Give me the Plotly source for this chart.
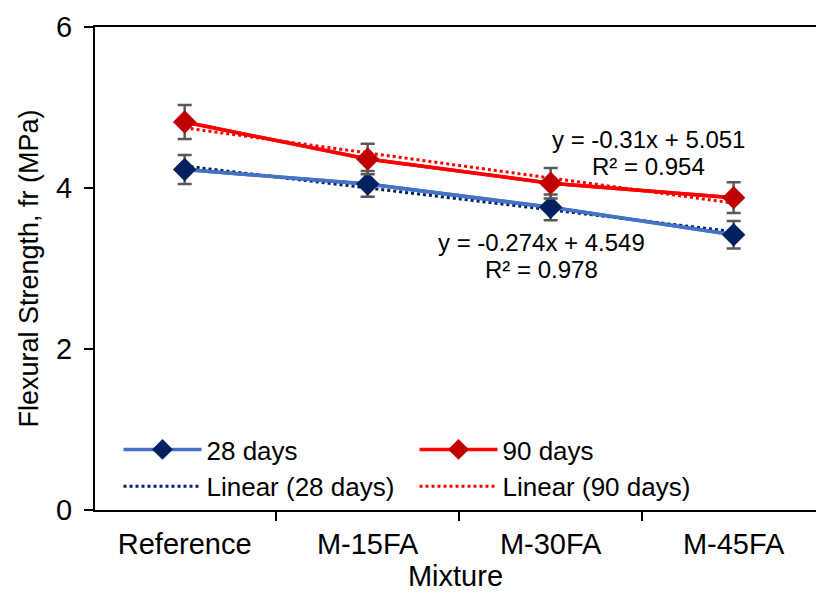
import numpy as np
import plotly.graph_objects as go

categories = ["Reference", "M-15FA", "M-30FA", "M-45FA"]
days28 = [4.23, 4.05, 3.76, 3.42]
days90 = [4.82, 4.36, 4.06, 3.88]
err28 = [0.18, 0.16, 0.16, 0.17]
err90 = [0.21, 0.19, 0.19, 0.19]
y_ticks = [0, 2, 4, 6]
eq28 = ["y = -0.274x + 4.549", "R² = 0.978"]
eq90 = ["y = -0.31x + 5.051", "R² = 0.954"]

FONT = "Liberation Sans, Arial, sans-serif"

xi = np.arange(1, len(categories) + 1)
k28, b28 = np.polyfit(xi, days28, 1)
k90, b90 = np.polyfit(xi, days90, 1)
trend28 = k28 * xi + b28
trend90 = k90 * xi + b90

fig = go.Figure()

fig.add_trace(go.Scatter(x=categories, y=days28, mode="lines",
                         line=dict(color="#4472C4", width=3.5), showlegend=False, hoverinfo="skip"))
fig.add_trace(go.Scatter(x=categories, y=days90, mode="lines",
                         line=dict(color="#FF0000", width=3.5), showlegend=False, hoverinfo="skip"))
fig.add_trace(go.Scatter(x=categories, y=trend28, mode="lines", name="Linear (28 days)",
                         line=dict(color="#002060", width=3, dash="dot"), legendrank=3))
fig.add_trace(go.Scatter(x=categories, y=trend90, mode="lines", name="Linear (90 days)",
                         line=dict(color="#FF0000", width=3, dash="dot"), legendrank=4))
fig.add_trace(go.Scatter(x=categories, y=days28, mode="lines+markers", name="28 days",
                         line=dict(color="#4472C4", width=3.5),
                         marker=dict(symbol="diamond", size=18, color="#002060"),
                         error_y=dict(type="data", array=err28, color="#595959", thickness=2.5, width=7),
                         legendrank=1))
fig.add_trace(go.Scatter(x=categories, y=days90, mode="lines+markers", name="90 days",
                         line=dict(color="#FF0000", width=3.5),
                         marker=dict(symbol="diamond", size=18, color="#C00000"),
                         error_y=dict(type="data", array=err90, color="#595959", thickness=2.5, width=7),
                         legendrank=2))

ann = [
    (648, 139, eq90[0]),
    (648, 166, eq90[1]),
    (541, 242, eq28[0]),
    (541, 269, eq28[1]),
]
for px, py, t in ann:
    fig.add_annotation(x=(px - 95) / 721, y=(510 - py) / 483, xref="paper", yref="paper",
                       showarrow=False, text=t, xanchor="center", yanchor="middle",
                       font=dict(family=FONT, size=24, color="#000"))

fig.update_layout(
    width=816, height=593,
    margin=dict(l=95, r=0, t=27, b=83),
    paper_bgcolor="white", plot_bgcolor="white",
    font=dict(family=FONT, size=26, color="#000"),
    legend=dict(orientation="h", x=(118.5 - 95) / 721, y=(510 - 426) / 483,
                xanchor="left", yanchor="top",
                entrywidth=203, bgcolor="rgba(0,0,0,0)", font=dict(size=26),
                tracegroupgap=0, itemwidth=78),
    xaxis=dict(type="category", range=[-0.49, 3.45], tickson="boundaries",
               ticks="outside", ticklen=9, tickwidth=2, tickcolor="#000",
               tickfont=dict(size=29), ticklabelstandoff=7,
               showline=True, linecolor="#000", linewidth=2, mirror=True,
               showgrid=False, zeroline=False,
               title=dict(text="Mixture", font=dict(size=29), standoff=6)),
    yaxis=dict(range=[0, 6], tickvals=y_ticks, ticks="outside", ticklen=9, tickwidth=2,
               tickcolor="#000", tickfont=dict(size=29), ticklabelstandoff=6,
               showline=True, linecolor="#000", linewidth=2,
               showgrid=False, zeroline=False,
               title=dict(text="Flexural Strength, fr (MPa)", font=dict(size=27), standoff=10)),
)

fig.write_html("out.html")
